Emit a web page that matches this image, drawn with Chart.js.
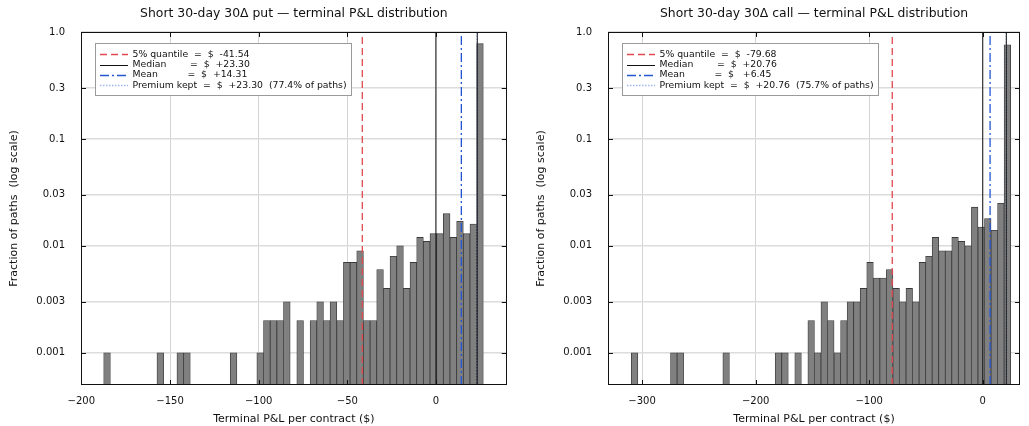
<!DOCTYPE html>
<html>
<head>
<meta charset="utf-8">
<script src="https://cdn.jsdelivr.net/npm/chart.js@4.4.1/dist/chart.umd.min.js"></script>
<style>
    html, body { margin: 0; padding: 0; background: #fff; }
    body { width: 1029px; height: 426px; position: relative; overflow: hidden; }
    .panel { position: absolute; top: 0; height: 426px; }
    #put-panel { left: 0; width: 520px; }
    #call-panel { left: 527px; width: 502px; }
</style>
</head>
<body>
<div class="panel" id="put-panel"><canvas id="put-chart"></canvas></div>
<div class="panel" id="call-panel"><canvas id="call-chart"></canvas></div>
<script>
// ---- put: histogram (fraction of 1000 paths per bin, 0 = empty bin) ----
const putBinStart = -187.4;
const putBinWidth = 3.756;
const putFractions = [
    0.001, 0, 0, 0, 0, 0, 0, 0, 0.001, 0,
    0, 0.001, 0.001, 0, 0, 0, 0, 0, 0, 0.001,
    0, 0, 0, 0.001, 0.002, 0.002, 0.002, 0.003, 0, 0.002,
    0, 0.002, 0.003, 0.002, 0.003, 0.002, 0.007, 0.007, 0.009, 0.002,
    0.002, 0.006, 0.004, 0.008, 0.010, 0.004, 0.007, 0.012, 0.011, 0.013,
    0.013, 0.020, 0.012, 0.017, 0.013, 0.016, 0.778
];
const putQuantile = -41.54;
const putMedian = 23.30;
const putMean = 14.31;
const putPremium = 23.30;
const putKeptPct = 77.4;
const putXRange = [-200.2, 39.9];
const putXTicks = [-200, -150, -100, -50, 0];

// ---- call ----
const callBinStart = -309.5;
const callBinWidth = 5.76;
const callFractions = [
    0.001, 0, 0, 0, 0, 0, 0.001, 0.001, 0, 0,
    0, 0, 0, 0, 0.001, 0, 0, 0, 0, 0,
    0, 0, 0.001, 0.001, 0, 0.001, 0, 0.002, 0.001, 0.003,
    0.002, 0.001, 0.002, 0.003, 0.003, 0.004, 0.007, 0.005, 0.005, 0.006,
    0.004, 0.003, 0.004, 0.003, 0.007, 0.008, 0.012, 0.009, 0.009, 0.012,
    0.011, 0.010, 0.023, 0.015, 0.018, 0.014, 0.025, 0.760
];
const callQuantile = -79.68;
const callMedian = 20.76;
const callMean = 6.45;
const callPremium = 20.76;
const callKeptPct = 75.7;
const callXRange = [-330, 32.8];
const callXTicks = [-300, -200, -100, 0];

// shared y axis (log)
const yRange = [0.0005, 1.0];
const yTickValues = [0.001, 0.003, 0.01, 0.03, 0.1, 0.3, 1.0];
const yTickLabels = ['0.001', '0.003', '0.01', '0.03', '0.1', '0.3', '1.0'];

const FONT = '"DejaVu Sans", sans-serif';
const RED = '#e2494f';
const BLUE = '#2456d2';
const LIGHT_BLUE = '#a3b6f0';

const money = (v) => {
    const s = (v < 0 ? '-' : '+') + Math.abs(v).toFixed(2);
    return s.padStart(6, ' ');
};

const vline = (x, label, color, width, dash) => ({
    type: 'line',
    label: label,
    data: [{ x: x, y: yRange[0] }, { x: x, y: yRange[1] }],
    borderColor: color,
    borderWidth: width,
    borderDash: dash,
    pointRadius: 0,
    fill: false,
    order: 0
});

// frame, inside ticks, title and legend box (drawn like the original plot)
const framePlugin = {
    id: 'frame',
    afterDraw (chart, args, opts) {
        const { ctx, chartArea: a, scales } = chart;
        ctx.save();
        ctx.strokeStyle = '#111';
        ctx.lineWidth = 1;
        ctx.setLineDash([]);
        const seg = (x1, y1, x2, y2) => {
            ctx.beginPath(); ctx.moveTo(x1, y1); ctx.lineTo(x2, y2); ctx.stroke();
        };
        scales.x.ticks.forEach(t => {
            const px = Math.round(scales.x.getPixelForValue(t.value)) + 0.5;
            seg(px, a.bottom, px, a.bottom - 5);
            seg(px, a.top, px, a.top + 5);
        });
        scales.y.ticks.forEach(t => {
            const py = Math.round(scales.y.getPixelForValue(t.value)) + 0.5;
            seg(a.left, py, a.left + 5, py);
            seg(a.right, py, a.right - 5, py);
        });
        ctx.strokeRect(Math.round(a.left) + 0.5, Math.round(a.top) + 0.5,
            Math.round(a.right - a.left) - 1, Math.round(a.bottom - a.top) - 1);

        // title
        ctx.fillStyle = '#111';
        ctx.font = '12.4px ' + FONT;
        ctx.textAlign = 'center';
        ctx.textBaseline = 'middle';
        ctx.fillText(opts.title, (a.left + a.right) / 2, 14);

        // legend
        const items = chart.data.datasets.filter(d => d.type === 'line' && d.label);
        ctx.font = '9.3px ' + FONT;
        const textW = Math.max(...items.map(d => ctx.measureText(d.label).width));
        const bx = Math.round(a.left + 13.5) + 0.5;
        const by = Math.round(a.top + 11.3) + 0.5;
        const bw = Math.round(37 + textW + 4.5);
        const bh = 52;
        ctx.fillStyle = '#fff';
        ctx.fillRect(bx, by, bw, bh);
        ctx.strokeStyle = '#9a9a9a';
        ctx.strokeRect(bx, by, bw, bh);
        items.forEach((d, i) => {
            const ty = by + 10.7 + i * 10.35;
            ctx.strokeStyle = d.borderColor;
            ctx.lineWidth = d.borderWidth;
            ctx.setLineDash(d.borderDash || []);
            seg(bx + 4.5, Math.round(ty) + 0.5, bx + 32.5, Math.round(ty) + 0.5);
            ctx.setLineDash([]);
            ctx.fillStyle = '#111';
            ctx.textAlign = 'left';
            ctx.textBaseline = 'middle';
            ctx.fillText(d.label, bx + 37, ty);
        });
        ctx.restore();
    }
};

function makeChart (canvasId, s) {
    const bars = s.fractions.map((f, i) => ({
        x: s.binStart + (i + 0.5) * s.binWidth,
        y: f > 0 ? f : null
    }));
    const datasets = [
        vline(0, '', '#111', 1, []),
        vline(s.quantile, `5% quantile  =  $  ${money(s.quantile)}`, RED, 1.3, [7, 4]),
        vline(s.median, `Median        =  $  ${money(s.median)}`, '#111', 1, []),
        vline(s.mean, `Mean          =  $  ${money(s.mean)}`, BLUE, 1.3, [9, 3, 2, 3]),
        vline(s.premium, `Premium kept  =  $  ${money(s.premium)}  (${s.keptPct.toFixed(1)}% of paths)`, LIGHT_BLUE, 1.4, [1.5, 1.5]),
        {
            type: 'bar',
            label: 'paths',
            data: bars,
            backgroundColor: '#808080',
            borderColor: '#3a3a3a',
            borderWidth: 0.8,
            borderSkipped: false,
            barPercentage: 1,
            categoryPercentage: 1,
            order: 10
        }
    ];

    return new Chart(document.getElementById(canvasId), {
        data: { datasets },
        options: {
            responsive: true,
            maintainAspectRatio: false,
            animation: false,
            devicePixelRatio: 1,
            layout: { padding: { top: 32, right: s.padRight, bottom: 0, left: 0 } },
            plugins: {
                legend: { display: false },
                tooltip: { enabled: false },
                title: { display: false },
                frame: { title: s.title }
            },
            scales: {
                x: {
                    type: 'linear',
                    min: s.xRange[0],
                    max: s.xRange[1],
                    offset: false,
                    afterBuildTicks: (scale) => { scale.ticks = s.xTicks.map(v => ({ value: v })); },
                    afterFit: (scale) => { scale.height = 41; },
                    ticks: {
                        autoSkip: false,
                        maxRotation: 0,
                        padding: 10,
                        color: '#111',
                        font: { family: FONT, size: 10 },
                        callback: (v) => String(v).replace('-', '\u2212')
                    },
                    grid: { offset: false, drawTicks: false, color: '#d4d4d4', lineWidth: 1 },
                    border: { display: false },
                    title: {
                        display: true,
                        text: 'Terminal P&L per contract ($)',
                        color: '#111',
                        font: { family: FONT, size: 11 },
                        padding: { top: 0, bottom: 0.5 }
                    }
                },
                y: {
                    type: 'logarithmic',
                    min: yRange[0],
                    max: yRange[1],
                    afterBuildTicks: (scale) => { scale.ticks = yTickValues.map(v => ({ value: v })); },
                    afterFit: (scale) => { scale.width = 81; },
                    ticks: {
                        autoSkip: false,
                        padding: 16,
                        color: '#111',
                        font: { family: FONT, size: 10 },
                        callback: (v, i) => yTickLabels[i]
                    },
                    grid: { drawTicks: false, color: '#dcdcdc', lineWidth: 1.4 },
                    border: { display: false },
                    title: {
                        display: true,
                        text: 'Fraction of paths  (log scale)',
                        color: '#111',
                        font: { family: FONT, size: 11 },
                        padding: { top: 8, bottom: 0 }
                    }
                }
            }
        },
        plugins: [framePlugin]
    });
}

makeChart('put-chart', {
    title: 'Short 30-day 30\u0394 put \u2014 terminal P&L distribution',
    binStart: putBinStart, binWidth: putBinWidth, fractions: putFractions,
    quantile: putQuantile, median: putMedian, mean: putMean,
    premium: putPremium, keptPct: putKeptPct,
    xRange: putXRange, xTicks: putXTicks, padRight: 13.3
});

makeChart('call-chart', {
    title: 'Short 30-day 30\u0394 call \u2014 terminal P&L distribution',
    binStart: callBinStart, binWidth: callBinWidth, fractions: callFractions,
    quantile: callQuantile, median: callMedian, mean: callMean,
    premium: callPremium, keptPct: callKeptPct,
    xRange: callXRange, xTicks: callXTicks, padRight: 9
});
</script>
</body>
</html>
